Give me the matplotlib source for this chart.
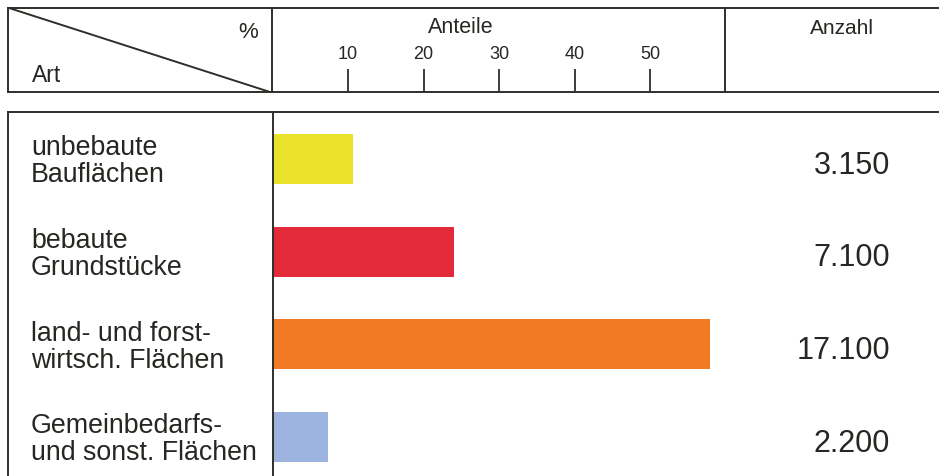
#!/usr/bin/env python3

import matplotlib.pyplot as plt
import matplotlib.transforms as mtransforms
from matplotlib.lines import Line2D

plt.rcParams["font.family"] = ["Liberation Sans", "DejaVu Sans"]

# data
kategorien = [
    "unbebaute\nBauflächen",
    "bebaute\nGrundstücke",
    "land- und forst-\nwirtsch. Flächen",
    "Gemeinbedarfs-\nund sonst. Flächen",
]
anteile = [10.7, 24.0, 57.9, 7.4]  # percent
anzahl = ["3.150", "7.100", "17.100", "2.200"]
farben = ["#e9e12a", "#e22a3a", "#f37a25", "#9cb3e0"]
ticks = [10, 20, 30, 40, 50]

W, H = 939, 477
LINE = "#2e2e2a"
TEXT = "#262622"


def fx(x):
    return x / W


def fy(y):
    # y measured in pixels from the top
    return 1 - y / H


def draw():
    fig = plt.figure(figsize=(W / 100, H / 100), dpi=100)

    def line(x0, y0, x1, y1, lw=1.4):
        fig.add_artist(Line2D([fx(x0), fx(x1)], [fy(y0), fy(y1)],
                              transform=fig.transFigure, color=LINE, lw=lw))

    # header frame
    line(8, 9, W, 9)
    line(8, 93, W, 93)
    line(8, 9, 8, 93)
    line(272, 9, 272, 93)
    line(725, 9, 725, 93)
    line(9, 9, 270, 93)
    # body frame
    line(8, 113, W, 113)
    line(8, 113, 8, H)

    fig.text(fx(258), fy(33), "%", ha="right", va="center", fontsize=16, color=TEXT)
    fig.text(fx(32), fy(75), "Art", ha="left", va="center", fontsize=16.5, color=TEXT)
    fig.text(fx(842), fy(28), "Anzahl", ha="center", va="center", fontsize=15, color=TEXT)

    # header axes with the percent scale
    hx0, hx1 = 272.5, 725
    hax = fig.add_axes([fx(hx0), fy(93), fx(hx1 - hx0), (93 - 9) / H])
    hax.set_xlim(0, (hx1 - hx0) / 7.55)
    hax.set_ylim(0, 1)
    for s in hax.spines.values():
        s.set_visible(False)
    hax.set_yticks([])
    hax.set_xticks(ticks)
    hax.tick_params(axis="x", direction="in", length=16.5, width=1.3,
                    color=LINE, labelbottom=False)
    for t in ticks:
        hax.text(t, 0.46, str(t), ha="center", va="center", fontsize=13, color=TEXT)
    hax.text(25.0, 0.78, "Anteile", ha="center", va="center", fontsize=15.5, color=TEXT)
    hax.patch.set_alpha(0)

    # body axes with the bars
    bax = fig.add_axes([fx(hx0), 0, fx(hx1 - hx0), (H - 113) / H])
    bax.set_xlim(0, (hx1 - hx0) / 7.55)
    px_per_row = 92.67
    bax.set_ylim((H - 160) / px_per_row, -(160 - 113) / px_per_row)
    pos = list(range(len(kategorien)))
    bax.barh(pos, anteile, height=50 / px_per_row, color=farben, left=0)
    for s in ["top", "right", "bottom"]:
        bax.spines[s].set_visible(False)
    bax.spines["left"].set_color(LINE)
    bax.spines["left"].set_linewidth(1.4)
    bax.set_xticks([])
    bax.set_yticks([])

    trans = mtransforms.blended_transform_factory(fig.transFigure, bax.transData)
    for i, (k, n) in enumerate(zip(kategorien, anzahl)):
        fig.text(fx(31), i + 0.02, k, transform=trans,
                 ha="left", va="center", fontsize=19.3, linespacing=1.05, color=TEXT)
        fig.text(fx(890), i + 0.06, n, transform=trans,
                 ha="right", va="center", fontsize=22, color=TEXT)

    fig.savefig("out.png", dpi=100)


if __name__ == "__main__":
    draw()
